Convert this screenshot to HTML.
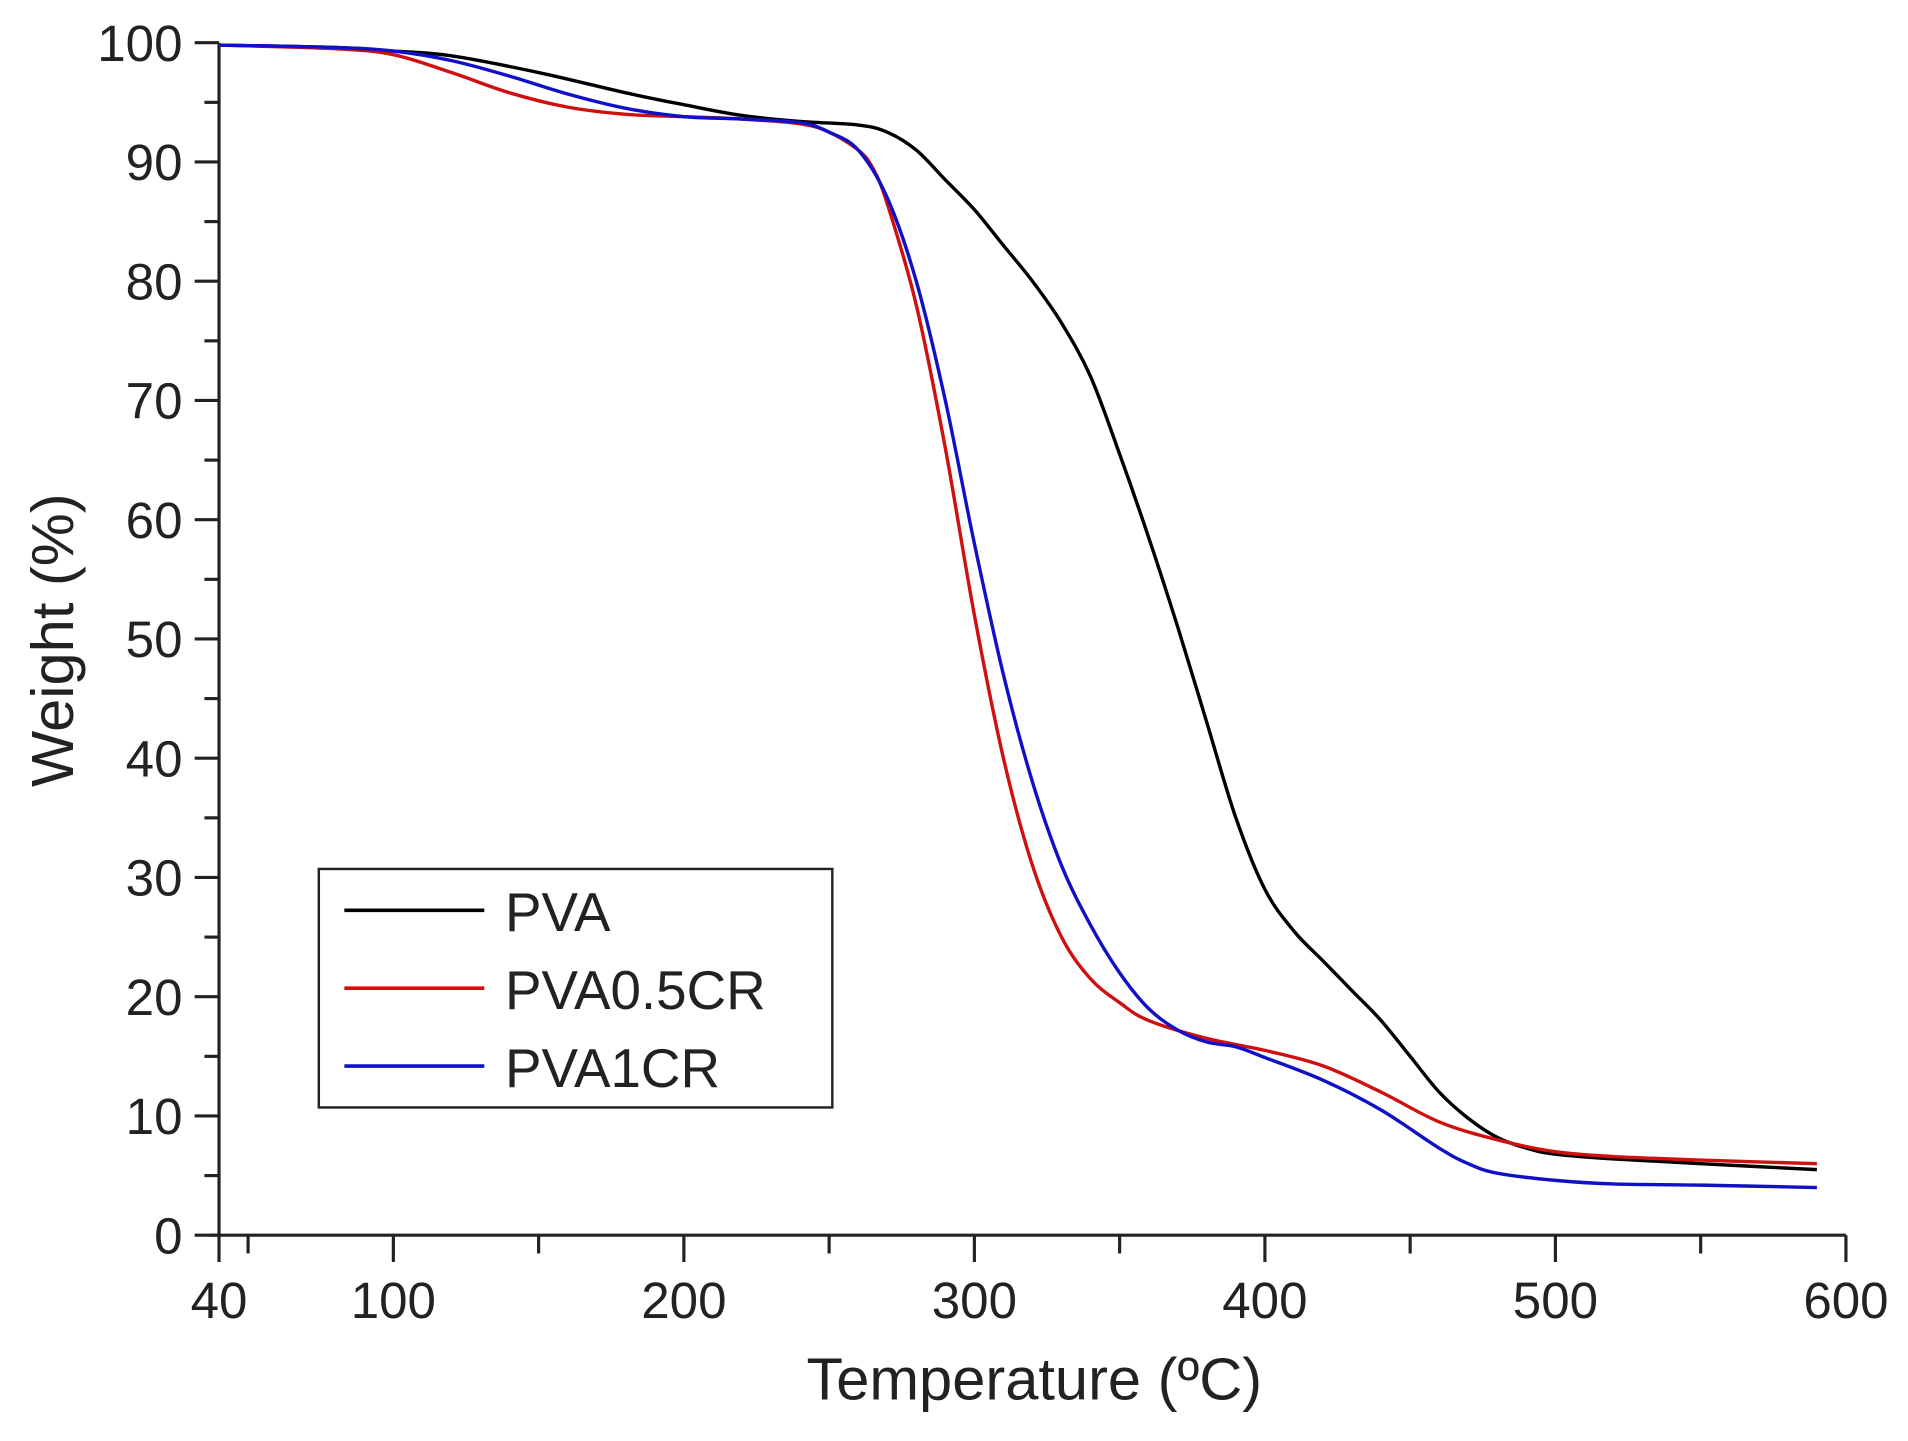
<!DOCTYPE html>
<html><head><meta charset="utf-8"><style>
html,body{margin:0;padding:0;background:#fff;}
svg{display:block;font-family:"Liberation Sans",Arial,sans-serif;}
</style></head><body>
<svg id="s" width="1908" height="1441" viewBox="0 0 1568 1184" xmlns="http://www.w3.org/2000/svg">
<rect width="1568" height="1184" fill="#fff"/>
<g id="ax" stroke="#222" stroke-width="2.6" fill="none"></g>
<g id="lbl" fill="#222" font-size="42"></g>
<g id="cv" fill="none" stroke-width="2.8" stroke-linejoin="round"></g>
<text x="850" y="1150" font-size="49" text-anchor="middle" fill="#222">Temperature (ºC)</text>
<text transform="translate(60,526) rotate(-90)" font-size="49" text-anchor="middle" fill="#222">Weight (%)</text>
<rect x="262" y="714" width="422" height="196" fill="#fff" stroke="#222" stroke-width="2"/>
<line x1="283" y1="748" x2="398" y2="748" stroke="#000" stroke-width="3"/>
<line x1="283" y1="812" x2="398" y2="812" stroke="#d01010" stroke-width="3"/>
<line x1="283" y1="876" x2="398" y2="876" stroke="#1010c8" stroke-width="3"/>
<text x="415" y="765" font-size="45" fill="#222">PVA</text>
<text x="415" y="829" font-size="45" fill="#222">PVA0.5CR</text>
<text x="415" y="893" font-size="45" fill="#222">PVA1CR</text>
</svg>
<script>
var NS="http://www.w3.org/2000/svg";
function X(t){return 180+(t-40)*1337/560;}
function Y(w){return 1015-w*9.8;}
function el(p,n,a,txt){var e=document.createElementNS(NS,n);for(var k in a)e.setAttribute(k,a[k]);if(txt!=null)e.textContent=txt;document.getElementById(p).appendChild(e);return e;}
el("ax","line",{x1:180,y1:35,x2:180,y2:1015});
el("ax","line",{x1:172,y1:1015,x2:1517,y2:1015});
for(var v=0;v<=100;v+=5){var big=v%10==0;el("ax","line",{x1:big?160:168,y1:Y(v),x2:180,y2:Y(v)});
 if(big)el("lbl","text",{x:150,y:Y(v)+15,"text-anchor":"end"},v);}
var xt=[40,50,100,150,200,250,300,350,400,450,500,550,600];
xt.forEach(function(t){var big=(t%100==0)||t==40;el("ax","line",{x1:X(t),y1:1015,x2:X(t),y2:big?1037:1030});
 if(big)el("lbl","text",{x:X(t),y:1083,"text-anchor":"middle"},t);});
var D={
"#000":[[40,99.8],[80,99.6],[100,99.3],[120,98.9],[150,97.5],[180,95.8],[200,94.8],[220,93.9],[240,93.4],[260,93.1],[270,92.5],[280,91],[290,88.5],[300,86],[310,83],[320,80],[330,76.5],[340,72],[350,65.5],[360,58.5],[370,51],[380,43],[390,35],[400,29],[410,25.5],[420,23],[430,20.5],[440,18],[450,15],[460,12],[470,9.8],[480,8.2],[490,7.3],[500,6.8],[520,6.4],[550,6.0],[590,5.5]],
"#d01010":[[40,99.8],[80,99.5],[100,99],[120,97.5],[140,95.8],[160,94.6],[180,94],[200,93.8],[220,93.6],[240,93.2],[250,92.5],[260,91],[265,89.5],[270,86.5],[280,78],[290,66],[300,52],[310,40],[320,31],[330,25],[340,21.5],[350,19.5],[360,18],[380,16.5],[400,15.5],[420,14.2],[440,12],[460,9.5],[480,8],[500,7],[520,6.6],[550,6.3],[590,6.0]],
"#1010c8":[[40,99.8],[80,99.6],[100,99.3],[120,98.5],[140,97.2],[160,95.7],[180,94.5],[200,93.8],[220,93.6],[240,93.3],[250,92.5],[260,91],[270,87],[280,80],[290,70],[300,58],[310,47],[320,38],[330,31],[340,26],[350,22],[360,19],[370,17.2],[380,16.2],[390,15.8],[400,14.9],[420,13],[440,10.5],[460,7.3],[470,6],[480,5.2],[500,4.6],[520,4.3],[550,4.2],[590,4.0]]};
for(var c in D){var p=D[c].map(function(q){return [X(q[0]),Y(q[1])];});
 var d="M"+p[0][0]+","+p[0][1];
 for(var i=0;i<p.length-1;i++){var p0=p[i-1]||p[i],p1=p[i],p2=p[i+1],p3=p[i+2]||p2;
  d+=" C"+(p1[0]+(p2[0]-p0[0])/6)+","+(p1[1]+(p2[1]-p0[1])/6)+" "+(p2[0]-(p3[0]-p1[0])/6)+","+(p2[1]-(p3[1]-p1[1])/6)+" "+p2[0]+","+p2[1];}
 el("cv","path",{d:d,stroke:c});}
</script>
</body></html>
